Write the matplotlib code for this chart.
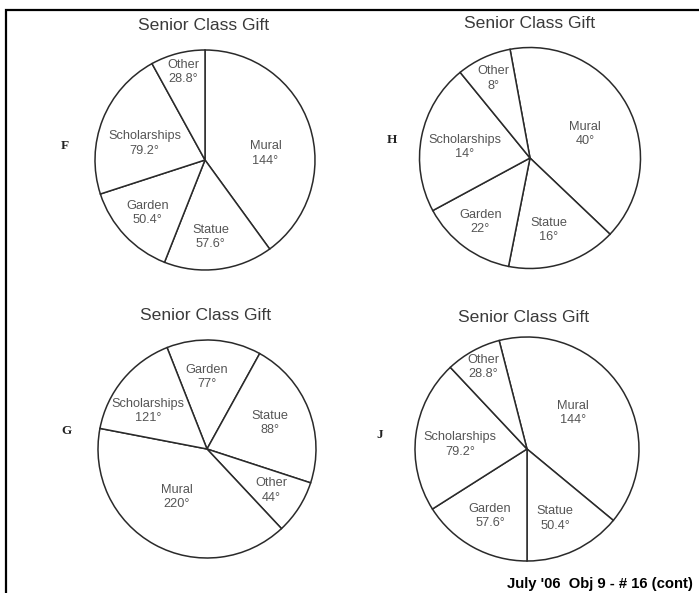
import matplotlib
matplotlib.use('agg')
import matplotlib.pyplot as plt

plt.rcParams['font.family'] = ['Liberation Sans', 'DejaVu Sans']

# answer choices F, H, G, J  (labels as printed, wedge sizes as drawn, in degrees)
f_categories = ["Mural", "Statue", "Garden", "Scholarships", "Other"]
f_labels = [144, 57.6, 50.4, 79.2, 28.8]
f_wedges = [144, 57.6, 50.4, 79.2, 28.8]

h_categories = ["Mural", "Statue", "Garden", "Scholarships", "Other"]
h_labels = [40, 16, 22, 14, 8]
h_wedges = [144, 57.6, 50.4, 79.2, 28.8]

g_categories = ["Garden", "Statue", "Other", "Mural", "Scholarships"]
g_labels = [77, 88, 44, 220, 121]
g_wedges = [50.4, 79.2, 28.8, 144, 57.6]

j_categories = ["Mural", "Statue", "Garden", "Scholarships", "Other"]
j_labels = [144, 50.4, 57.6, 79.2, 28.8]
j_wedges = [144, 50.4, 57.6, 79.2, 28.8]

title = "Senior Class Gift"
footer = "July '06  Obj 9 - # 16 (cont)"

W, H = 699, 593
fig = plt.figure(figsize=(W / 100, H / 100), dpi=100)
ax = fig.add_axes([0, 0, 1, 1])

# layout: (letter, cats, labels, wedges, center, radius, startangle, title pos, letter pos, label offsets)
charts = [
    ("F", f_categories, f_labels, f_wedges, (205, 433), 110, 90, (204, 568), (65, 447),
     [(0.55, 0.06), (0.05, -0.70), (-0.52, -0.48), (-0.55, 0.15), (-0.20, 0.80)]),
    ("H", h_categories, h_labels, h_wedges, (530, 435), 110.5, 100.4, (530, 570), (392, 453),
     [(0.50, 0.22), (0.17, -0.65), (-0.45, -0.58), (-0.59, 0.10), (-0.33, 0.72)]),
    ("G", g_categories, g_labels, g_wedges, (207, 144), 109, 111.5, (206, 278), (67, 162),
     [(0.00, 0.66), (0.58, 0.24), (0.59, -0.38), (-0.28, -0.44), (-0.54, 0.35)]),
    ("J", j_categories, j_labels, j_wedges, (527, 144), 112, 104.4, (524, 276), (380, 158),
     [(0.41, 0.32), (0.25, -0.62), (-0.33, -0.60), (-0.60, 0.04), (-0.39, 0.73)]),
]

for letter, cats, labels, wedges, center, r, start, tpos, lpos, offs in charts:
    ax.pie(wedges, center=center, radius=r, startangle=start, counterclock=False,
           wedgeprops=dict(facecolor='white', edgecolor='#2a2a2a', linewidth=1.1))
    for cat, val, (dx, dy) in zip(cats, labels, offs):
        ax.text(center[0] + dx * r, center[1] + dy * r, f"{cat}\n{val:g}\u00b0",
                ha='center', va='center', fontsize=9.2, color='#555555', linespacing=1.25)
    ax.text(tpos[0], tpos[1], title, ha='center', va='center', fontsize=12.6, color='#3a3a3a')
    ax.text(lpos[0], lpos[1], letter, ha='center', va='center', fontsize=9.5,
            fontweight='bold', family=['Liberation Serif', 'DejaVu Serif'], color='#222222')

ax.text(693, 9, footer, ha='right', va='center', fontsize=10.7, fontweight='bold', color='black')

# page border (left and top)
ax.plot([6, 6, W], [0, 583, 583], color='black', linewidth=1.6, solid_joinstyle='miter')

ax.set_xlim(0, W)
ax.set_ylim(0, H)
ax.set_aspect('auto')
ax.axis('off')

fig.savefig("out.png", dpi=100)
